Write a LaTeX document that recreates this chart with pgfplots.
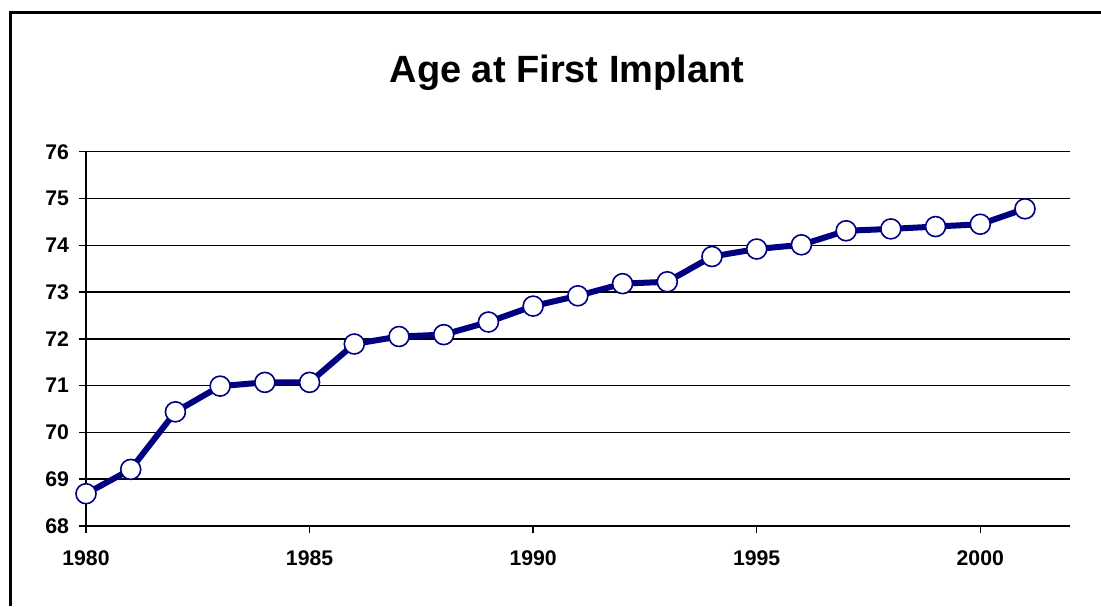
\documentclass[border=0pt]{standalone}
\usepackage{pgfplots}
\pgfplotsset{compat=1.18}
\usepackage{fontspec}
\setmainfont{Liberation Sans}
\definecolor{navyline}{RGB}{0,0,128}
\begin{document}
\begin{tikzpicture}
\useasboundingbox (0,0) rectangle (550.5pt,303pt);
\draw[line width=1.5pt] (5pt,0) -- (5pt,296.5pt) -- (550.5pt,296.5pt);
\node[font=\bfseries\fontsize{19}{22}\selectfont, anchor=base] at (283.5pt,261.5pt) {Age at First Implant};
\begin{axis}[
  at={(43pt,40pt)}, anchor=south west,
  scale only axis,
  width=491.85pt, height=187.15pt,
  xmin=1980, xmax=2002,
  ymin=68, ymax=76,
  xtick={1980,1985,1990,1995,2000},
  ytick={68,69,...,76},
  axis x line=bottom, axis y line=left,
  axis line style={-, line width=0.75pt, black},
  ymajorgrids,
  grid style={line width=0.75pt, black},
  tick align=outside,
  major tick length=3.5pt,
  tick style={line width=0.75pt, black},
  /pgf/number format/1000 sep={},
  /pgf/number format/assume math mode=true,
  ticklabel style={font=\bfseries\fontsize{10.6}{12}\selectfont},
  xticklabel style={yshift=-5.5pt},
  yticklabel style={xshift=-1.5pt},
  clip=false,
]
\addplot[color=navyline, line width=3pt, mark=*, mark size=5pt,
  mark options={fill=white, draw=navyline, line width=0.8pt}]
coordinates {
(1980,68.69) (1981,69.21) (1982,70.44) (1983,70.99) (1984,71.07)
(1985,71.07) (1986,71.89) (1987,72.05) (1988,72.09) (1989,72.36)
(1990,72.70) (1991,72.92) (1992,73.18) (1993,73.22) (1994,73.76)
(1995,73.92) (1996,74.01) (1997,74.31) (1998,74.35) (1999,74.40)
(2000,74.45) (2001,74.78)
};
\end{axis}
\end{tikzpicture}
\end{document}
